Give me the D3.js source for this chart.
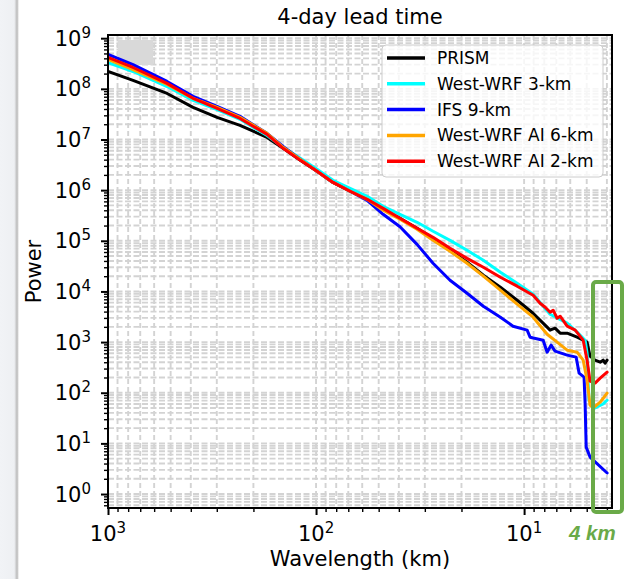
<!DOCTYPE html>
<html><head><meta charset="utf-8">
<script src="https://cdn.jsdelivr.net/npm/d3@7"></script>
<style>body{margin:0;background:#fff}svg{display:block}text{font-family:"DejaVu Sans",sans-serif;fill:#000}</style>
</head><body><svg id="c" width="624" height="579"></svg>
<script>
// ---- data (wavelength km, power) ----
const seriesNames = ["PRISM","West-WRF 3-km","IFS 9-km","West-WRF AI 6-km","West-WRF AI 2-km"];
const seriesColors = ["#000000","#00ffff","#0000ff","#ffa500","#ff0000"];
const prism = [[1000,2.2e8],[758,1.47e8],[520,8.1e7],[390,4.3e7],[299,2.73e7],[232,1.9e7],[172,1.1e7],[144,6.7e6],[119,3.87e6],[98.9,2.35e6],[82.9,1.42e6],[68.6,9.5e5],[56.8,6.6e5],[47.6,4.18e5],[39.5,2.78e5],[32.7,1.77e5],[27.4,1.12e5],[22.7,6.5e4],[18.8,3.77e4],[15.7,2.09e4],[13.0,1.21e4],[10.8,6.7e3],[9.05,3.71e3],[7.75,1.97e3],[7.5,1.72e3],[7.1,1.88e3],[6.71,1.5e3],[6.21,1.5e3],[5.56,1.25e3],[4.98,995],[4.82,527],[4.56,440],[4.31,402],[4.17,440],[4.08,384],[3.99,440]];
const wrf3 = [[1000,3.3e8],[758,2.2e8],[520,1.11e8],[390,5.9e7],[299,3.9e7],[232,2.5e7],[172,1.2e7],[144,7.0e6],[119,4.24e6],[98.9,2.57e6],[82.9,1.56e6],[68.6,1.08e6],[56.8,7.55e5],[47.6,4.8e5],[39.5,3.33e5],[32.7,2.32e5],[27.4,1.54e5],[22.7,1.02e5],[18.8,6.5e4],[15.7,4.12e4],[13.0,2.39e4],[10.8,1.45e4],[9.05,8.8e3],[7.5,3.55e3],[6.21,2.36e3],[5.56,1.57e3],[5.09,1.09e3],[4.98,604],[4.93,177],[4.87,71],[4.56,50],[4.17,60],[3.99,71]];
const ifs9 = [[1000,4.8e8],[758,3.0e8],[520,1.4e8],[390,7.1e7],[299,4.5e7],[232,2.86e7],[172,1.32e7],[144,7.3e6],[119,4.05e6],[98.9,2.35e6],[82.9,1.42e6],[68.6,9.5e5],[56.8,6.3e5],[47.6,3.33e5],[39.5,1.9e5],[32.7,8.5e4],[27.4,3.6e4],[22.7,1.66e4],[18.8,9.2e3],[15.7,5.1e3],[13.0,3.1e3],[11.3,2.06e3],[9.67,1.72e3],[9.36,1.25e3],[8.1,1.09e3],[7.75,632],[7.42,869],[7.1,662],[6.21,552],[5.62,504],[5.44,244],[5.15,203],[5.09,62],[5.03,8.45],[4.82,5.37],[3.99,2.6]];
const ai6 = [[1000,3.8e8],[758,2.4e8],[520,1.22e8],[390,6.5e7],[299,4.3e7],[232,2.73e7],[172,1.32e7],[144,7.0e6],[119,4.05e6],[98.9,2.35e6],[82.9,1.42e6],[68.6,9.5e5],[56.8,6.6e5],[47.6,4.0e5],[39.5,2.66e5],[32.7,1.69e5],[27.4,1.02e5],[22.7,6.2e4],[18.8,3.6e4],[15.7,2.0e4],[13.0,1.06e4],[10.8,5.6e3],[9.05,3.1e3],[7.75,1.43e3],[6.94,995],[6.21,692],[5.56,632],[5.2,440],[4.98,177],[4.82,57],[4.66,50],[4.31,65],[3.99,98]];
const ai2 = [[1000,4.2e8],[758,2.64e8],[520,1.28e8],[390,6.5e7],[299,4.1e7],[232,2.6e7],[172,1.26e7],[144,6.7e6],[119,3.87e6],[98.9,2.35e6],[82.9,1.42e6],[68.6,9.5e5],[56.8,6.6e5],[47.6,4.37e5],[39.5,2.78e5],[32.7,1.77e5],[27.4,1.17e5],[22.7,7.1e4],[18.8,4.5e4],[15.7,3.0e4],[13.0,1.91e4],[10.8,1.27e4],[9.05,8.4e3],[8.38,5.85e3],[7.92,4.88e3],[7.5,3.88e3],[7.25,4.26e3],[6.94,2.96e3],[6.71,3.24e3],[6.21,2.06e3],[5.68,1.72e3],[5.2,1.09e3],[4.98,440],[4.82,169],[4.56,155],[4.31,194],[3.99,255]];
const xMajorExp = [3,2,1];
const yMajorExp = [0,1,2,3,4,5,6,7,8,9];
const titleText = "4-day lead time";
const xLabel = "Wavelength (km)";
const yLabel = "Power";
const noteText = "4 km";

const allSeries = [prism, wrf3, ifs9, ai6, ai2];

const svg = d3.select("#c");
const L=108,R=612,T=35,B=508;
const x = d3.scaleLog().domain([1000,3.78]).range([L,R]);
const y = d3.scaleLog().domain([0.53,1.156e9]).range([B,T]);

// left page shadow
const defs = svg.append("defs");
const g1 = defs.append("linearGradient").attr("id","sh").attr("x1",0).attr("x2",1);
g1.append("stop").attr("offset",0).attr("stop-color","#f1f3f6");
g1.append("stop").attr("offset",0.75).attr("stop-color","#eef0f3");
g1.append("stop").attr("offset",0.9).attr("stop-color","#b9b9b9");
g1.append("stop").attr("offset",1).attr("stop-color","#ffffff");
svg.append("rect").attr("x",0).attr("y",0).attr("width",19).attr("height",579).attr("fill","url(#sh)");
defs.append("clipPath").attr("id","clip").append("rect").attr("x",L).attr("y",T).attr("width",R-L).attr("height",B-T);

// tick values
const xMinor=[], yMinor=[];
for (let e=0;e<=2;e++) for (let k=2;k<=9;k++){const v=k*Math.pow(10,e); if(v>=3.78&&v<=1000) xMinor.push(v);}
for (let e=-1;e<=9;e++) for (let k=2;k<=9;k++){const v=k*Math.pow(10,e); if(v>=0.53&&v<=1.156e9) yMinor.push(v);}
const xMajor = xMajorExp.map(e=>Math.pow(10,e));
const yMajor = yMajorExp.map(e=>Math.pow(10,e));

// grid
const grid = svg.append("g").attr("clip-path","url(#clip)");
grid.selectAll(".gx").data(xMinor.concat(xMajor)).join("line")
  .attr("x1",d=>x(d)).attr("x2",d=>x(d)).attr("y1",T).attr("y2",B)
  .attr("stroke","#d3d3d3").attr("stroke-width",1.9).attr("stroke-dasharray","5,3");
grid.selectAll(".gy").data(yMinor.concat(yMajor)).join("line")
  .attr("y1",d=>y(d)).attr("y2",d=>y(d)).attr("x1",L).attr("x2",R)
  .attr("stroke","#d3d3d3").attr("stroke-width",1.9).attr("stroke-dasharray","6,2.5");
// grey patch seen in the picture
svg.append("rect").attr("x",118).attr("y",40).attr("width",35).attr("height",25).attr("fill","#d9d9d9");

// lines
const line = d3.line().x(d=>x(d[0])).y(d=>y(d[1]));
const lg = svg.append("g").attr("clip-path","url(#clip)");
allSeries.forEach((s,i)=>{
  lg.append("path").datum(s).attr("d",line).attr("fill","none")
    .attr("stroke",seriesColors[i]).attr("stroke-width",3)
    .attr("stroke-linejoin","round").attr("stroke-linecap","round");
});

// axes
function styleAxis(g,w){g.select(".domain").remove(); g.selectAll(".tick line").attr("stroke","#000").attr("stroke-width",w);}
svg.append("g").attr("transform",`translate(0,${B})`).call(d3.axisBottom(x).tickValues(xMinor).tickSize(4).tickFormat("")).call(g=>styleAxis(g,1.4));
svg.append("g").attr("transform",`translate(0,${B})`).call(d3.axisBottom(x).tickValues(xMajor).tickSize(7).tickFormat("")).call(g=>styleAxis(g,2));
svg.append("g").attr("transform",`translate(${L},0)`).call(d3.axisLeft(y).tickValues(yMinor).tickSize(4).tickFormat("")).call(g=>styleAxis(g,1.4));
svg.append("g").attr("transform",`translate(${L},0)`).call(d3.axisLeft(y).tickValues(yMajor).tickSize(7).tickFormat("")).call(g=>styleAxis(g,2));
svg.append("rect").attr("x",L).attr("y",T).attr("width",R-L).attr("height",B-T).attr("fill","none").attr("stroke","#000").attr("stroke-width",2);

// tick labels with superscripts
xMajorExp.forEach(e=>{
  const t=svg.append("text").attr("x",x(Math.pow(10,e))).attr("y",541).attr("text-anchor","middle").style("font-size","21px");
  t.append("tspan").text("10");
  t.append("tspan").attr("dy",-8).style("font-size","15px").text(e);
});
yMajorExp.forEach(e=>{
  const t=svg.append("text").attr("x",91).attr("y",y(Math.pow(10,e))+7.5).attr("text-anchor","end").style("font-size","21px");
  t.append("tspan").text("10");
  t.append("tspan").attr("dy",-8).style("font-size","15px").text(e);
});

// titles
svg.append("text").attr("x",(L+R)/2).attr("y",24).attr("text-anchor","middle").style("font-size","21px").text(titleText);
svg.append("text").attr("x",(L+R)/2).attr("y",566).attr("text-anchor","middle").style("font-size","21px").text(xLabel);
svg.append("text").attr("transform",`translate(41,${(T+B)/2}) rotate(-90)`).attr("text-anchor","middle").style("font-size","21px").text(yLabel);

// legend
const leg = svg.append("g");
leg.append("rect").attr("x",382).attr("y",45).attr("width",221).attr("height",132).attr("rx",4)
  .attr("fill","#fff").attr("fill-opacity",0.8).attr("stroke","#cccccc").attr("stroke-width",1);
seriesNames.forEach((n,i)=>{
  const yy=58+i*25.8;
  leg.append("line").attr("x1",387).attr("x2",425).attr("y1",yy).attr("y2",yy).attr("stroke",seriesColors[i]).attr("stroke-width",3.5);
  leg.append("text").attr("x",437).attr("y",yy+6).style("font-size","17px").text(n);
});

// green annotation box
svg.append("rect").attr("x",593).attr("y",282).attr("width",29).attr("height",230).attr("rx",3)
  .attr("fill","none").attr("stroke","#6aaa48").attr("stroke-width",4);
svg.append("text").attr("x",569).attr("y",540).style("font-family","'Liberation Sans',Arial,sans-serif")
  .style("font-size","20.5px").style("font-weight","bold").style("font-style","italic").style("fill","#6aaa48").text(noteText);
</script></body></html>
